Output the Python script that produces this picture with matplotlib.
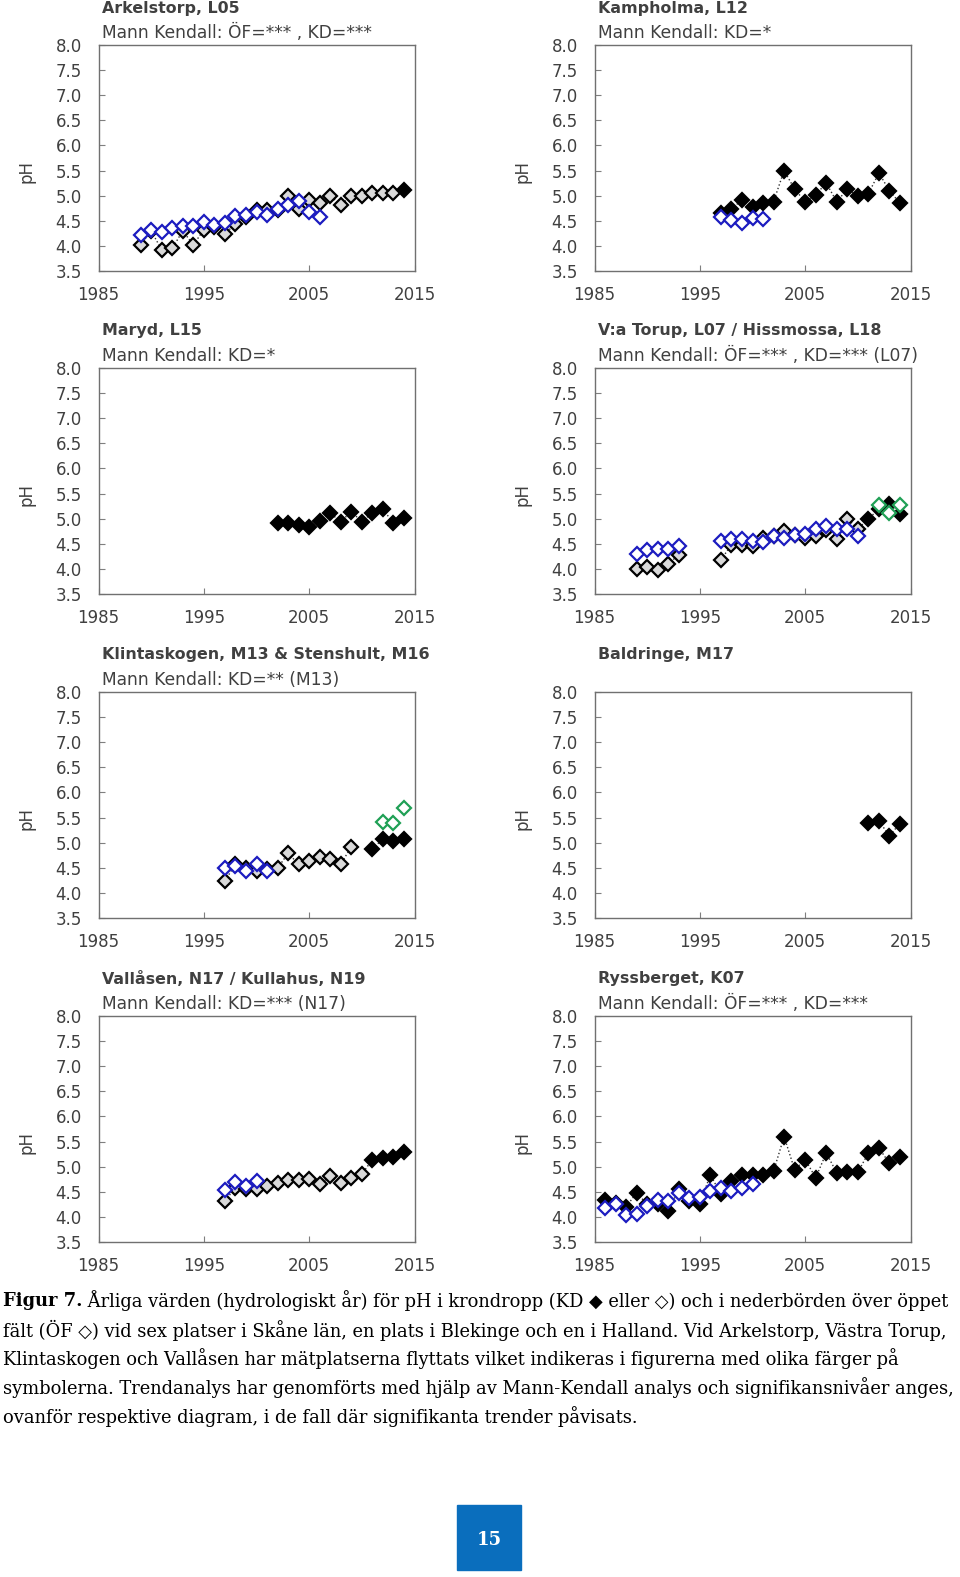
import numpy as np
import matplotlib.pyplot as plt
from matplotlib.patches import Rectangle

plt.rcParams['font.family'] = ['DejaVu Sans']

# --- data (pH, hydrologiskt år) ---
# grå = KD gammal plats, svart = KD, blå = ÖF gammal plats, grön = ÖF ny plats
ark_grey_yr = list(range(1989, 2014))
ark_grey_ph = [4.02, 4.30, 3.92, 3.95, 4.30, 4.02, 4.32, 4.38, 4.24, 4.44, 4.58, 4.72, 4.71,
               4.72, 5.00, 4.73, 4.92, 4.86, 5.00, 4.81, 5.00, 5.00, 5.05, 5.05, 5.05]
ark_black_yr = [2014]
ark_black_ph = [5.11]
ark_blue_yr = list(range(1989, 2007))
ark_blue_ph = [4.22, 4.32, 4.28, 4.35, 4.40, 4.40, 4.48, 4.42, 4.46, 4.59, 4.61, 4.68, 4.61,
               4.73, 4.82, 4.90, 4.68, 4.58]

kam_black_yr = list(range(1997, 2015))
kam_black_ph = [4.65, 4.73, 4.92, 4.77, 4.85, 4.88, 5.50, 5.13, 4.88, 5.02, 5.25, 4.88, 5.13,
                5.00, 5.04, 5.45, 5.10, 4.85]
kam_blue_yr = list(range(1997, 2002))
kam_blue_ph = [4.58, 4.52, 4.46, 4.55, 4.54]

mar_black_yr = list(range(2002, 2015))
mar_black_ph = [4.91, 4.91, 4.88, 4.83, 4.96, 5.11, 4.94, 5.14, 4.94, 5.12, 5.19, 4.91, 5.01]

tor_grey_yr = [1989, 1990, 1991, 1992, 1993] + list(range(1997, 2011))
tor_grey_ph = [4.00, 4.04, 3.98, 4.10, 4.28,
               4.18, 4.48, 4.47, 4.45, 4.62, 4.66, 4.75, 4.68, 4.62, 4.66, 4.78, 4.60, 5.00, 4.80]
tor_black_yr = list(range(2011, 2015))
tor_black_ph = [4.99, 5.20, 5.29, 5.09]
tor_blue_yr = [1989, 1990, 1991, 1992, 1993] + list(range(1997, 2011))
tor_blue_ph = [4.30, 4.37, 4.40, 4.40, 4.45,
               4.56, 4.60, 4.60, 4.55, 4.53, 4.65, 4.61, 4.68, 4.70, 4.79, 4.86, 4.79, 4.79, 4.65]
tor_green_yr = [2012, 2013, 2014]
tor_green_ph = [5.28, 5.11, 5.28]

kli_grey_yr = list(range(1997, 2010))
kli_grey_ph = [4.24, 4.57, 4.50, 4.44, 4.47, 4.49, 4.79, 4.57, 4.64, 4.72, 4.67, 4.57, 4.92]
kli_black_yr = list(range(2011, 2015))
kli_black_ph = [4.88, 5.07, 5.04, 5.07]
kli_blue_yr = list(range(1997, 2002))
kli_blue_ph = [4.50, 4.54, 4.44, 4.57, 4.44]
kli_green_yr = [2012, 2013, 2014]
kli_green_ph = [5.41, 5.40, 5.70]

bal_black_yr = list(range(2011, 2015))
bal_black_ph = [5.40, 5.43, 5.14, 5.38]

val_grey_yr = list(range(1997, 2011))
val_grey_ph = [4.32, 4.58, 4.55, 4.55, 4.61, 4.67, 4.73, 4.73, 4.76, 4.65, 4.81, 4.68, 4.78, 4.85]
val_black_yr = list(range(2011, 2015))
val_black_ph = [5.14, 5.17, 5.19, 5.29]
val_blue_yr = list(range(1997, 2001))
val_blue_ph = [4.53, 4.69, 4.61, 4.71]

rys_black_yr = list(range(1986, 2015))
rys_black_ph = [4.34, 4.28, 4.20, 4.48, 4.25, 4.25, 4.12, 4.55, 4.32, 4.26, 4.84, 4.45, 4.71,
                4.84, 4.84, 4.84, 4.91, 5.60, 4.94, 5.14, 4.78, 5.27, 4.88, 4.89, 4.89, 5.27,
                5.37, 5.07, 5.20]
rys_blue_yr = list(range(1986, 2001))
rys_blue_ph = [4.18, 4.25, 4.03, 4.05, 4.22, 4.34, 4.32, 4.48, 4.38, 4.40, 4.51, 4.58, 4.51,
               4.58, 4.65]

x_ticks = [1985, 1995, 2005, 2015]
y_ticks = np.arange(3.5, 8.01, 0.5)

W, H = 960, 1577
TXT = '#404040'
BLUE = '#1c1cc0'
GREEN = '#1fa055'


def with_gaps(yrs, vals):
    # bryt den prickade linjen där år saknas
    xs, ys = [], []
    for i in range(len(yrs)):
        if i > 0 and yrs[i] - yrs[i - 1] > 1:
            xs.append(np.nan)
            ys.append(np.nan)
        xs.append(yrs[i])
        ys.append(vals[i])
    return xs, ys


def panel(fig, left, top, title, subtitle=None, grey=None, black=None, blue=None, green=None):
    w, h = 316, 226
    ax = fig.add_axes([left / W, 1 - (top + h) / H, w / W, h / H])

    # KD-serien (grå + svart) med prickad linje
    kd_yr, kd_ph = [], []
    for s in (grey, black):
        if s:
            kd_yr += s[0]
            kd_ph += s[1]
    if kd_yr:
        lx, ly = with_gaps(kd_yr, kd_ph)
        ax.plot(lx, ly, ls=':', lw=1, color='#333333', zorder=2)
    mk = dict(ls='none', marker='D', ms=7, mew=1.6, zorder=3)
    if grey:
        ax.plot(grey[0], grey[1], mfc='#d9d9d9', mec='black', **mk)
    if black:
        ax.plot(black[0], black[1], mfc='black', mec='black', **mk)
    if blue:
        ax.plot(blue[0], blue[1], mfc='white', mec=BLUE, **mk)
    if green:
        ax.plot(green[0], green[1], mfc='white', mec=GREEN, **mk)

    ax.set_xlim(1985, 2015)
    ax.set_ylim(3.5, 8.0)
    ax.set_xticks(x_ticks)
    ax.set_yticks(y_ticks)
    ax.set_yticklabels([f"{v:.1f}" for v in y_ticks])
    ax.tick_params(direction='in', length=4, width=0.8, color='#7f7f7f',
                   labelsize=12, labelcolor=TXT)
    ax.tick_params(axis='y', pad=12)
    ax.tick_params(axis='x', pad=11)
    for sp in ax.spines.values():
        sp.set_color('#707070')
        sp.set_linewidth(1)
    ax.set_ylabel('pH', fontsize=12, color=TXT)
    ax.yaxis.set_label_coords(-0.20, 0.44)

    ax.text(0.01, 1 + 37 / h, title, transform=ax.transAxes, fontsize=11.4,
            fontweight='bold', color=TXT, va='center', ha='left')
    if subtitle:
        ax.text(0.01, 1 + 12 / h, subtitle, transform=ax.transAxes, fontsize=12.3,
                color=TXT, va='center', ha='left')
    return ax


fig = plt.figure(figsize=(W / 100, H / 100), dpi=100)

L, R = 98.5, 594.5
panel(fig, L, 45, "Arkelstorp, L05", "Mann Kendall: ÖF=*** , KD=***",
      grey=(ark_grey_yr, ark_grey_ph), black=(ark_black_yr, ark_black_ph),
      blue=(ark_blue_yr, ark_blue_ph))
panel(fig, R, 45, "Kampholma, L12", "Mann Kendall: KD=*",
      black=(kam_black_yr, kam_black_ph), blue=(kam_blue_yr, kam_blue_ph))
panel(fig, L, 368, "Maryd, L15", "Mann Kendall: KD=*",
      black=(mar_black_yr, mar_black_ph))
panel(fig, R, 368, "V:a Torup, L07 / Hissmossa, L18", "Mann Kendall: ÖF=*** , KD=*** (L07)",
      grey=(tor_grey_yr, tor_grey_ph), black=(tor_black_yr, tor_black_ph),
      blue=(tor_blue_yr, tor_blue_ph), green=(tor_green_yr, tor_green_ph))
panel(fig, L, 692, "Klintaskogen, M13 & Stenshult, M16", "Mann Kendall: KD=** (M13)",
      grey=(kli_grey_yr, kli_grey_ph), black=(kli_black_yr, kli_black_ph),
      blue=(kli_blue_yr, kli_blue_ph), green=(kli_green_yr, kli_green_ph))
panel(fig, R, 692, "Baldringe, M17",
      black=(bal_black_yr, bal_black_ph))
panel(fig, L, 1016, "Vallåsen, N17 / Kullahus, N19", "Mann Kendall: KD=*** (N17)",
      grey=(val_grey_yr, val_grey_ph), black=(val_black_yr, val_black_ph),
      blue=(val_blue_yr, val_blue_ph))
panel(fig, R, 1016, "Ryssberget, K07", "Mann Kendall: ÖF=*** , KD=***",
      black=(rys_black_yr, rys_black_ph), blue=(rys_blue_yr, rys_blue_ph))

# figurtext
serif = ['DejaVu Serif', 'DejaVu Sans']
cap_size = 12.9
lines = [
    " Årliga värden (hydrologiskt år) för pH i krondropp (KD ◆ eller ◇) och i nederbörden över öppet",
    "fält (ÖF ◇) vid sex platser i Skåne län, en plats i Blekinge och en i Halland. Vid Arkelstorp, Västra Torup,",
    "Klintaskogen och Vallåsen har mätplatserna flyttats vilket indikeras i figurerna med olika färger på",
    "symbolerna. Trendanalys har genomförts med hjälp av Mann-Kendall analys och signifikansnivåer anges,",
    "ovanför respektive diagram, i de fall där signifikanta trender påvisats.",
]
y0 = 1301
fig_txt = fig.text(3 / W, 1 - y0 / H, "Figur 7.", family=serif, fontsize=cap_size,
                   fontweight='bold', va='center', ha='left', color='black')
fig.canvas.draw()
bb = fig_txt.get_window_extent(renderer=fig.canvas.get_renderer())
fig.text(bb.x1 / W, 1 - y0 / H, lines[0], family=serif, fontsize=cap_size,
         va='center', ha='left', color='black')
for i, t in enumerate(lines[1:]):
    fig.text(3 / W, 1 - (y0 + 29 * (i + 1)) / H, t, family=serif, fontsize=cap_size,
             va='center', ha='left', color='black')

# sidnummer
fig.patches.append(Rectangle((457 / W, 1 - 1570 / H), 64 / W, 65 / H,
                             transform=fig.transFigure, color='#0a6ebd'))
fig.text(489 / W, 1 - 1540 / H, "15", family=serif, fontsize=13, fontweight='bold',
         color='white', ha='center', va='center')

fig.savefig("out.png", dpi=100)
